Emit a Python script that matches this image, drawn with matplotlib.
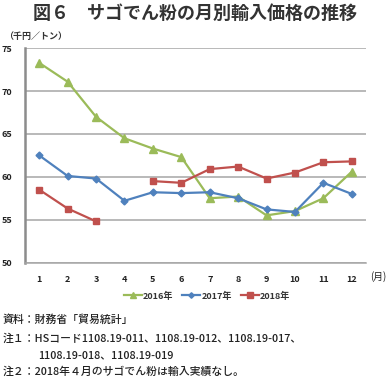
import numpy as np
import matplotlib
matplotlib.use("Agg")
import matplotlib.pyplot as plt

plt.rcParams['font.family'] = ['Noto Sans CJK JP', 'DejaVu Sans']

# ============================================================
#  DATEN (千円／トン)
# ============================================================
months = list(range(1, 13))
month_labels = [str(m) for m in months]
price_2016 = [73.3, 71.1, 67.0, 64.5, 63.3, 62.3, 57.5, 57.7, 55.5, 56.0, 57.5, 60.6]
price_2017 = [62.5, 60.1, 59.8, 57.2, 58.2, 58.1, 58.2, 57.5, 56.2, 55.9, 59.3, 58.0]
price_2018 = [58.5, 56.3, 54.8, np.nan, 59.5, 59.3, 60.9, 61.2, 59.8, 60.5, 61.7, 61.8]
series_labels = ["2016年", "2017年", "2018年"]
y_ticks = [50, 55, 60, 65, 70, 75]

W, H = 387, 378
fig = plt.figure(figsize=(W / 100, H / 100), dpi=100)

# Achse in Pixelkoordinaten
x0, x1 = 25, 366
y_top, y_bot = 48.3, 262.5
ax = fig.add_axes([x0 / W, 1 - y_bot / H, (x1 - x0) / W, (y_bot - y_top) / H])

green, blue, red = "#9BBB59", "#4F81BD", "#C0504D"
ax.plot(months, price_2016, color=green, lw=1.6, marker="^", ms=5.5, label=series_labels[0])
ax.plot(months, price_2017, color=blue, lw=1.6, marker="D", ms=3.5, label=series_labels[1])
ax.plot(months, price_2018, color=red, lw=1.6, marker="s", ms=5, label=series_labels[2])

ax.set_xlim(0.5, 12.5)
ax.set_ylim(50, 75)
ax.set_yticks(y_ticks)
ax.set_xticks(months)
ax.set_xticklabels(month_labels)
ax.tick_params(axis="both", length=0, labelsize=6.5, colors="#222222")
ax.tick_params(axis="x", pad=9)
ax.tick_params(axis="y", pad=9)
for lab in ax.get_xticklabels() + ax.get_yticklabels():
    lab.set_fontweight("bold")

ax.grid(axis="y", color="#a6a6a6", lw=1.1)
ax.set_axisbelow(True)
for s in ["top", "right"]:
    ax.spines[s].set_visible(False)
ax.spines["left"].set_color("#8c8c8c")
ax.spines["left"].set_linewidth(1.8)
ax.spines["bottom"].set_color("#a6a6a6")
ax.spines["bottom"].set_linewidth(1.1)

# ============================================================
#  TEXTE
# ============================================================
fig.text(195 / W, 1 - 13 / H, "図６　サゴでん粉の月別輸入価格の推移",
         ha="center", va="center", fontsize=13, fontweight="bold", color="#333333")
fig.text(4 / W, 1 - 36 / H, "（千円／トン）", ha="left", va="center",
         fontsize=6.5, fontweight="bold", color="#333333")
fig.text(386 / W, 1 - 277 / H, "(月)", ha="right", va="center",
         fontsize=7, color="#222222")

leg = fig.legend(loc="center", bbox_to_anchor=(207 / W, 1 - 296 / H), ncol=3,
                 frameon=False, fontsize=6.5, handlelength=2.0, columnspacing=1.0,
                 handletextpad=0.1, borderaxespad=0, markerscale=0.8)
for t in leg.get_texts():
    t.set_fontweight("bold")
    t.set_color("#333333")

notes = [
    (3, 320, "資料：財務省「貿易統計」"),
    (3, 339, "注１：HSコード1108.19-011、1108.19-012、1108.19-017、"),
    (38, 355, "1108.19-018、1108.19-019"),
    (3, 372, "注２：2018年４月のサゴでん粉は輸入実績なし。"),
]
for x, y, s in notes:
    fig.text(x / W, 1 - y / H, s, ha="left", va="center", fontsize=7.8,
             fontweight="medium", color="#222222")

fig.savefig("out.png", dpi=100)
